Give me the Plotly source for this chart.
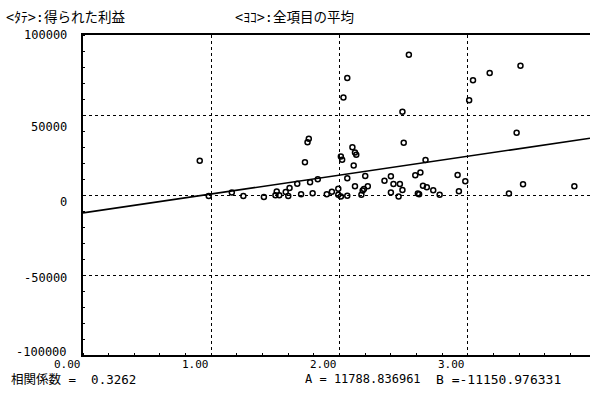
import plotly.graph_objects as go

# --- data ---
avg_score = [0.91, 0.98, 1.16, 1.25, 1.41, 1.51, 1.50, 1.53, 1.58, 1.60,
             1.61, 1.67, 1.70, 1.73, 1.75, 1.76, 1.77, 1.79, 1.83, 1.90,
             1.94, 1.99, 1.99, 2.01, 2.01, 2.02, 2.06, 2.06, 2.10, 2.12,
             2.13, 2.11, 2.12, 2.17, 2.18, 2.19, 2.20, 2.22, 2.03, 2.06,
             2.35, 2.40, 2.42, 2.47, 2.49, 2.40, 2.46, 2.59, 2.63, 2.65,
             2.68, 2.73, 2.61, 2.62, 2.78, 2.92, 2.98, 2.93, 2.50, 2.67,
             2.54, 2.49, 3.04, 3.17, 3.41, 3.01, 3.38, 3.43, 3.83, 3.32]
profit = [21400, -600, 1600, -600, -1200, 2200, -200, -200, 1900, -600,
          4300, 7000, 400, 20500, 33000, 35200, 7900, 1100, 9900, 500,
          2000, 3900, 200, -900, 24000, 22000, 10500, -400, 29800, 26500,
          25100, 18500, 5400, 100, 2800, 3700, 11800, 5400, 61000, 73200,
          8900, 11700, 6800, 6800, 3200, 1600, -900, 12400, 14100, 5800,
          4800, 3000, 900, 400, 100, 12500, 8600, 2300, 32700, 21800,
          87600, 52100, 71700, 76300, 80800, 59200, 38900, 6700, 5400, 900]

slope_a = 11788.836961
intercept_b = -11150.976331
corr = 0.3262

x_ticks = [0, 1, 2, 3]
x_ticktext = ["0.00", "1.00", "2.00", "3.00"]
y_ticks = [-100000, -50000, 0, 50000, 100000]
y_ticktext = ["-100000", "-50000", "0", "50000", "100000"]

y_title = "<ﾀﾃ>:得られた利益"
x_title = "<ﾖｺ>:全項目の平均"

X_MAX = 3.952
FONT = "DejaVu Sans Mono, Noto Sans CJK JP"

fig = go.Figure()

# regression line
line_x = [0, X_MAX]
line_y = [slope_a * v + intercept_b for v in line_x]
fig.add_trace(go.Scatter(x=line_x, y=line_y, mode="lines",
                         line=dict(color="black", width=1.6),
                         hoverinfo="skip", showlegend=False))

fig.add_trace(go.Scatter(x=avg_score, y=profit, mode="markers",
                         marker=dict(symbol="circle-open", size=5, color="black",
                                     line=dict(width=1.5, color="black")),
                         showlegend=False))

W, H = 590, 396
L, R, T, B = 83, 0, 35, 41
PW, PH = W - L - R, H - T - B


def px(xp):
    return (xp - L) / PW


def py(yp):
    return (H - B - yp) / PH


annos = [
    (4, 17, y_title, 13.5),
    (233, 17, x_title, 13.5),
    (9, 379, "相関係数 =  %.4f" % corr, 12.5),
    (303, 379, "A = %.6f" % slope_a, 12),
    (434, 379, "B =%.6f" % intercept_b, 13),
]
for xp, yp, txt, fs in annos:
    fig.add_annotation(x=px(xp), y=py(yp), xref="paper", yref="paper",
                       text=txt, showarrow=False, xanchor="left", yanchor="middle",
                       font=dict(family=FONT, size=fs, color="black"))

# y tick labels sit slightly off their gridlines in the original print-out
y_label_shift = [3, -3, -7, -12, 0]
for val, txt, sh in zip(y_ticks, y_ticktext, y_label_shift):
    fig.add_annotation(x=px(69), y=val, xref="paper", yref="y", text=txt,
                       showarrow=False, xanchor="right", yanchor="middle",
                       yshift=sh, font=dict(family=FONT, size=12, color="black"))

# x tick labels, printed a little left of their gridlines
for val, txt in zip(x_ticks, x_ticktext):
    fig.add_annotation(x=val, y=py(364), xref="x", yref="paper", text=txt,
                       showarrow=False, xanchor="center", yanchor="middle",
                       xshift=-16, font=dict(family=FONT, size=11, color="black"))

fig.update_layout(
    width=W, height=H,
    margin=dict(l=L, r=R, t=T, b=B, pad=0, autoexpand=False),
    plot_bgcolor="white", paper_bgcolor="white",
    showlegend=False,
    font=dict(family=FONT, size=12, color="black"),
    xaxis=dict(range=[0, X_MAX], tickvals=x_ticks, showticklabels=False,
               automargin=False,
               showgrid=True, gridcolor="black", griddash="dot", gridwidth=1,
               zeroline=False, showline=True, linecolor="black", linewidth=2,
               mirror=True, ticks="",
               minor=dict(dtick=0.2, ticks="inside", ticklen=2, tickcolor="black",
                          showgrid=False)),
    yaxis=dict(range=[-100000, 100000], tickvals=y_ticks, showticklabels=False,
               automargin=False,
               showgrid=True, gridcolor="black", griddash="dot", gridwidth=1,
               zeroline=False, showline=True, linecolor="black", linewidth=2,
               mirror=False, ticks="",
               minor=dict(dtick=10000, ticks="inside", ticklen=2, tickcolor="black",
                          showgrid=False)),
)

fig.write_html("out.html", config={"displayModeBar": False},
               post_script="document.body.style.margin='0px';document.body.style.overflow='hidden';")
